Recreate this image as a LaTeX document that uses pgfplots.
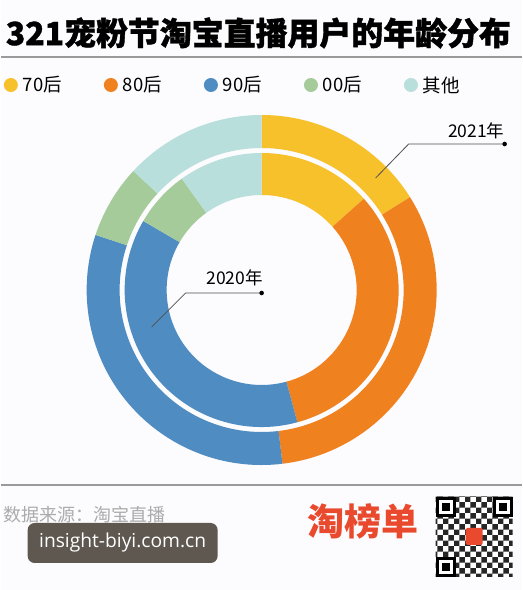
\documentclass[border=0pt]{standalone}
\usepackage{pgfplots}
\pgfplotsset{compat=1.18}
\usepackage{pgfplotstable}
\usepackage{graphicx}
\usetikzlibrary{patterns}
\usepackage{fontspec}
\setmainfont{Noto Sans CJK SC}
\newfontfamily\titlefont[FakeBold=1.2]{Noto Sans CJK SC}
\newfontfamily\latinfont{Open Sans}

\definecolor{c70}{HTML}{F7C12C}
\definecolor{c80}{HTML}{F0811F}
\definecolor{c90}{HTML}{4E8CC2}
\definecolor{c00}{HTML}{A5CB9A}
\definecolor{cot}{HTML}{B9DFDC}
\definecolor{bgc}{HTML}{FCFBFD}
\definecolor{linec}{HTML}{9A9A9A}
\definecolor{srcc}{HTML}{ABABAB}
\definecolor{wm}{HTML}{5E5850}
\definecolor{logo}{HTML}{E94A2E}
\definecolor{leader}{HTML}{505050}

% 2020 (inner ring)
\pgfplotstableread{
label value color
70后 13.4 c70
80后 32.4 c80
90后 37.6 c90
00后 6.7 c00
其他 9.9 cot
}\tabA
% 2021 (outer ring)
\pgfplotstableread{
label value color
70后 16.1 c70
80后 32.0 c80
90后 32.0 c90
00后 6.8 c00
其他 13.1 cot
}\tabB
\pgfplotstablecreatecol[expr accum={\pgfmathaccuma+\thisrow{value}}{0}]{cum}\tabA
\pgfplotstablecreatecol[expr accum={\pgfmathaccuma+\thisrow{value}}{0}]{cum}\tabB

\newcommand\ring[3]{%
  \pgfplotsinvokeforeach{0,...,4}{%
    \pgfplotstablegetelem{##1}{cum}\of#1\let\cumv\pgfplotsretval
    \pgfplotstablegetelem{##1}{value}\of#1\let\valv\pgfplotsretval
    \pgfplotstablegetelem{##1}{color}\of#1\let\colv\pgfplotsretval
    \pgfmathsetmacro\aE{90-3.6*\cumv}%
    \pgfmathsetmacro\aS{90-3.6*(\cumv-\valv)}%
    \edef\temp{\noexpand\fill[\colv, shift={(axis cs:261,300)}] (\aS:#2) arc[start angle=\aS, end angle=\aE, radius=#2] -- (\aE:#3) arc[start angle=\aE, end angle=\aS, radius=#3] -- cycle;}%
    \temp
  }%
}

\begin{document}
\begin{tikzpicture}
\begin{axis}[
  x=1pt, y=1pt, xmin=0, xmax=521, ymin=0, ymax=590,
  hide axis, clip=false,
  legend style={at={(axis cs:3,505)}, anchor=west, draw=none, fill=none,
    font=\fontsize{18.5}{18.5}\selectfont, inner sep=0pt,
    nodes={inner sep=0pt},
    legend columns=5,
    /tikz/every odd column/.append style={column sep=5pt},
    /tikz/every even column/.append style={column sep=42pt}},
  legend cell align=left,
  legend image code/.code={\fill[#1] (7pt,0pt) circle (7pt);},
]
\fill[bgc] (axis cs:0,0) rectangle (axis cs:521,590);

\ring{\tabB}{175pt}{142pt}
\ring{\tabA}{137pt}{95pt}

\addlegendimage{fill=c70, draw=none}\addlegendentry{70后}
\addlegendimage{fill=c80, draw=none}\addlegendentry{80后}
\addlegendimage{fill=c90, draw=none}\addlegendentry{90后}
\addlegendimage{fill=c00, draw=none}\addlegendentry{00后}
\addlegendimage{fill=cot, draw=none}\addlegendentry{其他}

% title
\node[anchor=west, inner sep=0pt] at (axis cs:5,557) {\resizebox{505pt}{!}{\titlefont\bfseries 321宠粉节淘宝直播用户的年龄分布}};
\draw[linec, line width=1.3pt] (axis cs:0,533) -- (axis cs:521,533);

% annotations
\draw[leader, line width=0.8pt] (axis cs:375,412) -- (axis cs:408,446) -- (axis cs:504,446);
\fill[black] (axis cs:504,446) circle (2.3pt);
\node[anchor=east, inner sep=0pt, font=\fontsize{17.5}{17.5}\selectfont] at (axis cs:504,459) {2021年};
\draw[leader, line width=0.8pt] (axis cs:151,263) -- (axis cs:185,297) -- (axis cs:261,297);
\fill[black] (axis cs:261,297) circle (2.3pt);
\node[inner sep=0pt, font=\fontsize{17.5}{17.5}\selectfont] at (axis cs:234,312) {2020年};

% footer
\draw[linec, line width=1.3pt] (axis cs:0,105) -- (axis cs:521,105);
\node[anchor=west, inner sep=0pt, text=srcc, font=\fontsize{18}{18}\selectfont] at (axis cs:3,75) {数据来源：淘宝直播};
\fill[wm, rounded corners=7pt] (axis cs:27,27) rectangle (axis cs:217,67);
\node[inner sep=0pt, text=white] at (axis cs:122,47) {\resizebox{167pt}{!}{\latinfont insight-biyi.com.cn}};
\node[inner sep=0pt, text=logo, font=\bfseries\fontsize{37}{37}\selectfont] at (axis cs:362,69) {淘榜单};

% QR-like mark
\fill[white] (axis cs:435,13) rectangle (axis cs:512,93);
\fill[pattern=checkerboard, pattern color=black!85] (axis cs:435,13) rectangle (axis cs:512,93);
\fill[black] (axis cs:435,73) rectangle (axis cs:455,93);
\fill[white] (axis cs:438,76) rectangle (axis cs:452,90);
\fill[black] (axis cs:441,79) rectangle (axis cs:449,87);
\fill[black] (axis cs:492,73) rectangle (axis cs:512,93);
\fill[white] (axis cs:495,76) rectangle (axis cs:509,90);
\fill[black] (axis cs:498,79) rectangle (axis cs:506,87);
\fill[black] (axis cs:435,13) rectangle (axis cs:455,33);
\fill[white] (axis cs:438,16) rectangle (axis cs:452,30);
\fill[black] (axis cs:441,19) rectangle (axis cs:449,27);
\fill[logo, rounded corners=1.5pt] (axis cs:465,45) rectangle (axis cs:482,62);
\end{axis}
\end{tikzpicture}
\end{document}
